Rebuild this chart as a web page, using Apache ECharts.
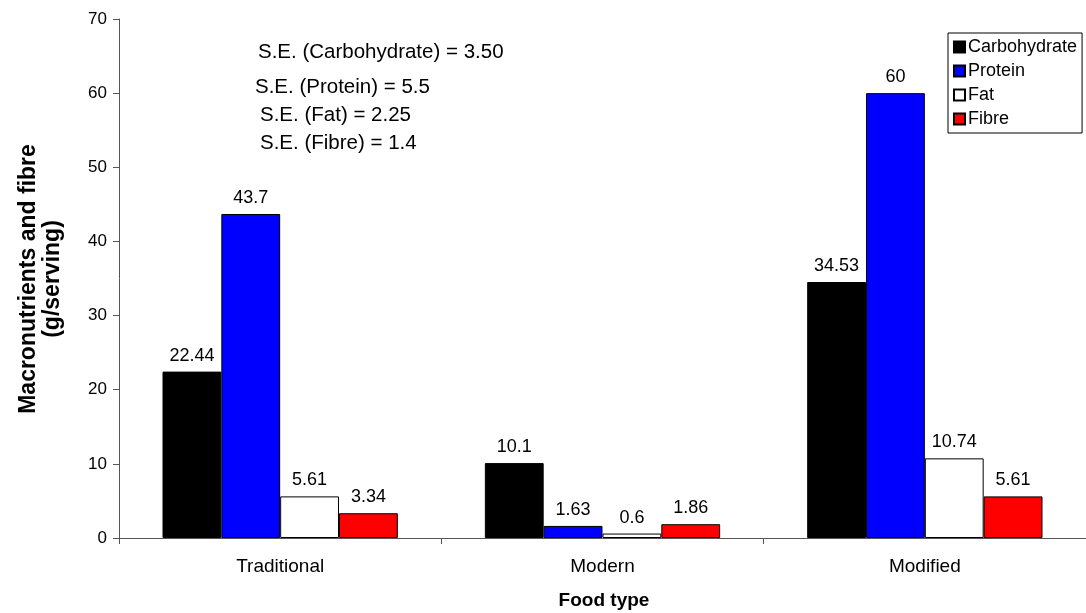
<!DOCTYPE html>
<html>
<head>
<meta charset="utf-8">
<script src="https://cdn.jsdelivr.net/npm/echarts@6/dist/echarts.min.js"></script>
<style>html,body{margin:0;padding:0;background:#fff;}#c{width:1086px;height:613px;}</style>
</head>
<body>
<div id="c"></div>
<script>
var categories = ['Traditional', 'Modern', 'Modified'];
var carbohydrate = [22.44, 10.1, 34.53];
var protein = [43.7, 1.63, 60];
var fat = [5.61, 0.6, 10.74];
var fibre = [3.34, 1.86, 5.61];
var seNotes = ['S.E. (Carbohydrate) = 3.50', 'S.E. (Protein) = 5.5', 'S.E. (Fat) = 2.25', 'S.E. (Fibre) = 1.4'];

var FAM = '"Liberation Sans", Arial, sans-serif';
var chart = echarts.init(document.getElementById('c'));

function mk(name, data, color) {
  return {
    name: name, type: 'bar', data: data, barGap: 0, barCategoryGap: '27%',
    itemStyle: { color: color, borderColor: '#000', borderWidth: 1 },
    label: { show: true, position: 'top', distance: 7, color: '#000', fontSize: 18, fontFamily: FAM }
  };
}

chart.setOption({
  animation: false,
  textStyle: { fontFamily: FAM },
  grid: { left: 119, top: 19, bottom: 75, width: 978 },
  legend: {
    orient: 'vertical', left: 948, top: 33,
    backgroundColor: '#fff', borderColor: '#000', borderWidth: 1,
    padding: [5, 5, 5, 5], itemGap: 6, itemWidth: 11, itemHeight: 11,
    icon: 'rect',
    textStyle: { fontSize: 18, color: '#000', fontFamily: FAM, padding: [0, 0, 0, -2] },
    data: ['Carbohydrate', 'Protein', 'Fat', 'Fibre']
  },
  xAxis: {
    type: 'category', data: categories,
    axisLine: { lineStyle: { color: '#555' } },
    axisTick: { show: true, length: 6, lineStyle: { color: '#555' } },
    axisLabel: { fontSize: 19, color: '#000', margin: 19, fontFamily: FAM }
  },
  yAxis: {
    type: 'value', min: 0, max: 70, interval: 10,
    axisLine: { show: true, lineStyle: { color: '#555' } },
    axisTick: { show: true, length: 6, lineStyle: { color: '#555' } },
    splitLine: { show: false },
    axisLabel: { fontSize: 17, color: '#000', margin: 12, fontFamily: FAM }
  },
  graphic: [
    { type: 'text', x: 41, y: 279, rotation: Math.PI / 2,
      style: { text: 'Macronutrients and fibre\n(g/serving)', fill: '#000',
        font: 'bold 23px "Liberation Sans", Arial, sans-serif', textAlign: 'center', textVerticalAlign: 'middle', lineHeight: 24 } },
    { type: 'text', x: 604, y: 601,
      style: { text: 'Food type', font: 'bold 19px "Liberation Sans", Arial, sans-serif', fill: '#000', textAlign: 'center', textVerticalAlign: 'middle' } },
    { type: 'text', x: 258, y: 52, style: { text: seNotes[0], font: '20.5px "Liberation Sans", Arial, sans-serif', fill: '#000', textVerticalAlign: 'middle' } },
    { type: 'text', x: 255, y: 87, style: { text: seNotes[1], font: '20.5px "Liberation Sans", Arial, sans-serif', fill: '#000', textVerticalAlign: 'middle' } },
    { type: 'text', x: 260, y: 115, style: { text: seNotes[2], font: '20.5px "Liberation Sans", Arial, sans-serif', fill: '#000', textVerticalAlign: 'middle' } },
    { type: 'text', x: 260, y: 143, style: { text: seNotes[3], font: '20.5px "Liberation Sans", Arial, sans-serif', fill: '#000', textVerticalAlign: 'middle' } }
  ],
  series: [
    mk('Carbohydrate', carbohydrate, '#000000'),
    mk('Protein', protein, '#0000ff'),
    mk('Fat', fat, '#ffffff'),
    mk('Fibre', fibre, '#ff0000')
  ]
});
</script>
</body>
</html>
